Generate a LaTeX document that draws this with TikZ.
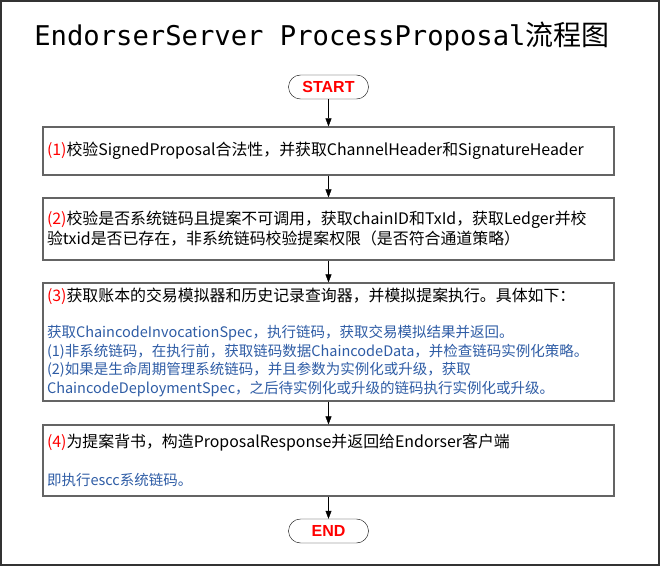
\documentclass[tikz,border=0pt]{standalone}
\usepackage{fontspec}
\setmainfont{Noto Sans CJK SC}
\setmonofont{DejaVu Sans Mono}
\newfontfamily\markfont{Liberation Sans}
\usetikzlibrary{arrows.meta}
\definecolor{stepred}{RGB}{255,0,0}
\definecolor{noteblue}{RGB}{46,92,165}
\definecolor{boxgray}{RGB}{100,100,100}
\newcommand{\stepno}[1]{\textcolor{stepred}{#1}}

\begin{document}
\begin{tikzpicture}[x=1pt, y=-1pt, >={Triangle[length=8pt,width=6pt]},
    terminal/.style={draw=black, rounded corners=12pt, minimum width=80pt, minimum height=24pt, inner sep=0pt, text=stepred, font=\markfont\bfseries\fontsize{16}{16}\selectfont},
    stepbox/.style={draw=boxgray, line width=1.2pt, text width=563pt, inner xsep=4pt, inner ysep=0pt, align=left, font=\fontsize{15.9}{20}\selectfont},
    note/.style={text=noteblue}]
    \useasboundingbox (0,0) rectangle (662,567);
    \draw[line width=1.2pt, black!80] (1,1) rectangle (659,565);
    \node (title) at (322,37) {{\ttfamily\fontsize{27.2}{30}\selectfont EndorserServer ProcessProposal}{\fontsize{28}{30}\selectfont 流程图}};
    \node[terminal] (start) at (328.5,87) {START};
    \node[stepbox, minimum height=48pt] (s1) at (328.5,151) {\stepno{(1)}校验SignedProposal合法性，并获取ChannelHeader和SignatureHeader};
    \node[stepbox, minimum height=62pt] (s2) at (328.5,229) {\stepno{(2)}校验是否系统链码且提案不可调用，获取chainID和TxId，获取Ledger并校\\验txid是否已存在，非系统链码校验提案权限（是否符合通道策略）};
    \node[stepbox, minimum height=118pt] (s3) at (328.5,342) {\stepno{(3)}获取账本的交易模拟器和历史记录查询器，并模拟提案执行。具体如下：\\[18pt]
        {\color{noteblue}\fontsize{14.5}{18.5}\selectfont 获取ChaincodeInvocationSpec，执行链码，获取交易模拟结果并返回。\\(1)非系统链码，在执行前，获取链码数据ChaincodeData，并检查链码实例化策略。\\(2)如果是生命周期管理系统链码，并且参数为实例化或升级，获取\\ChaincodeDeploymentSpec，之后待实例化或升级的链码执行实例化或升级。\par}};
    \node[stepbox, minimum height=71pt] (s4) at (328.5,460.5) {\stepno{(4)}为提案背书，构造ProposalResponse并返回给Endorser客户端\\[20pt]
        {\color{noteblue}\fontsize{14.5}{18.5}\selectfont 即执行escc系统链码。\par}};
    \node[terminal] (end) at (328.5,531) {END};
    \path [->] (start) edge (s1);
    \path [->] (s1) edge (s2);
    \path [->] (s2) edge (s3);
    \path [->] (s3) edge (s4);
    \path [->] (s4) edge (end);
\end{tikzpicture}
\end{document}
